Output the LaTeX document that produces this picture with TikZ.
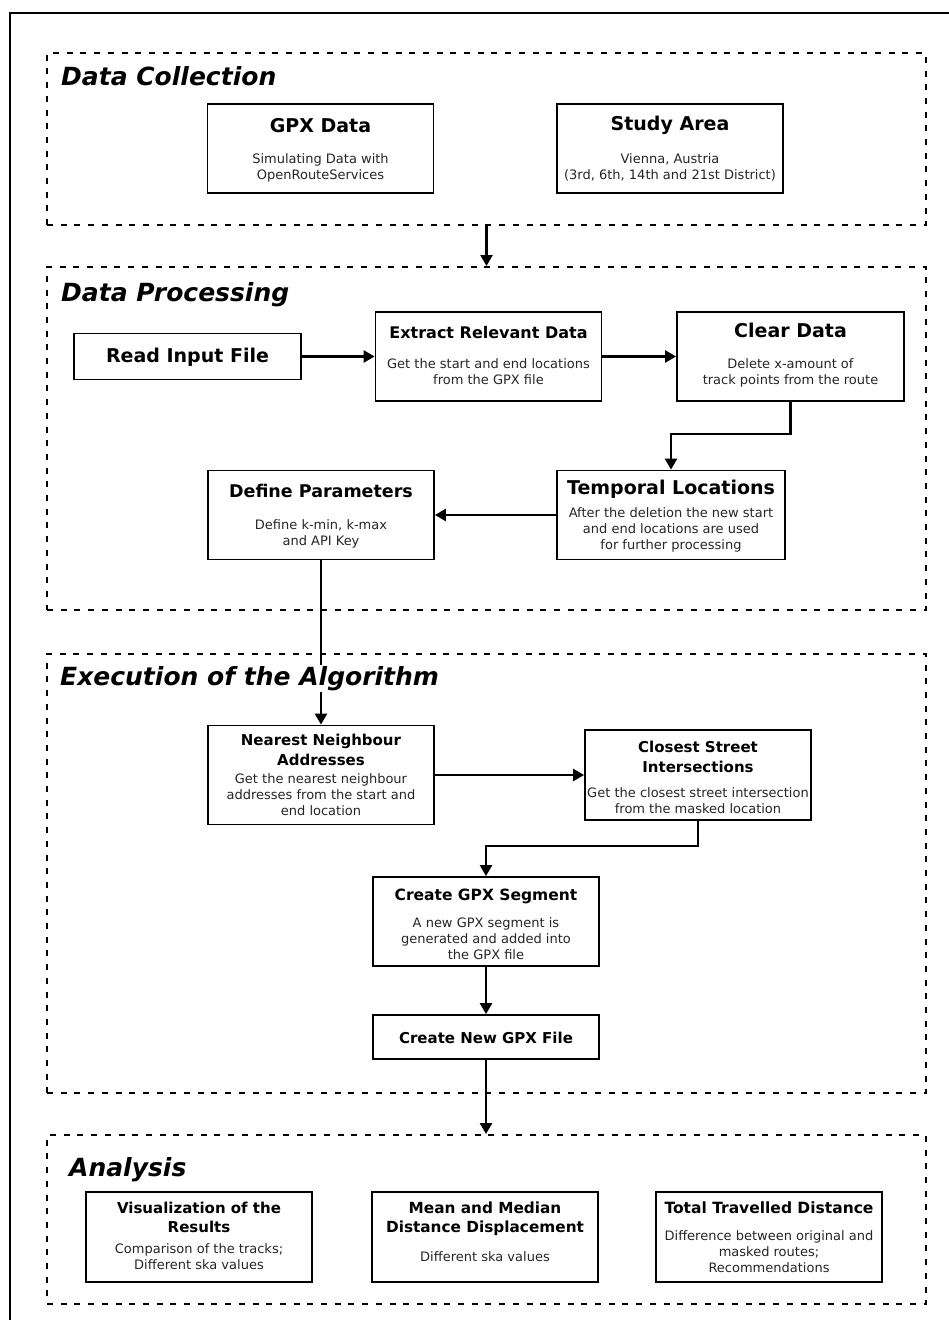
\documentclass[tikz,border=0pt]{standalone}
\usepackage{fontspec}
\setmainfont{DejaVu Sans}
\usetikzlibrary{arrows.meta}
\newcommand{\mlines}[1]{\begin{tabular}[t]{@{}c@{}}#1\end{tabular}}
\tikzset{
  sect/.style={draw, line width=1.9pt, dash pattern=on 6pt off 7.7pt, minimum width=879pt, inner sep=0pt},
  sectitle/.style={anchor=base west, inner sep=1.5pt, font=\fontsize{25}{30}\selectfont\bfseries\itshape},
  box/.style={draw, line width=1.8pt, fill=white, minimum width=226pt, minimum height=89pt, inner sep=0pt},
  ttl/.style={anchor=base, inner sep=0pt, font=\fontsize{19}{23}\selectfont\bfseries},
  ttlm/.style={anchor=base, inner sep=0pt, font=\fontsize{16}{20}\selectfont\bfseries},
  ttls/.style={anchor=base, inner sep=0pt, font=\fontsize{15}{20}\selectfont\bfseries},
  bdy/.style={anchor=base, inner sep=0pt, font=\fontsize{13}{16}\selectfont, text=black!85},
  arr/.style={line width=2.4pt, -{Triangle[length=11pt,width=12pt]}},
  conn/.style={line width=2.4pt},
  frame/.style={line width=2pt},
}
\begin{document}
\begin{tikzpicture}[x=1pt,y=-1pt]
\useasboundingbox (0,0) rectangle (949,1320);
% outer frame (clipped at right and bottom)
\coordinate (fA) at (10,1322);
\coordinate (fB) at (10,13);
\coordinate (fC) at (951,13);
\draw[frame] (fA) -- (fB) -- (fC);

% sections
\node[sect, minimum height=172pt] (dc) at (486.5,139) {};
\node[sect, minimum height=343pt] (dp) at (486.5,438.5) {};
\node[sect, minimum height=439pt] (ex) at (486.5,873.5) {};
\node[sect, minimum height=169pt] (an) at (486.5,1219.5) {};

\node[sectitle] (dcT) at (59.5,85) {Data Collection};
\node[sectitle] (dpT) at (59.5,301) {Data Processing};
\node[sectitle] (anT) at (67.5,1176) {Analysis};

% Data collection
\node[box] (gpx) at (320.5,148.5) {};
\node[ttl] (gpxT) at (320.5,132) {GPX Data};
\node[bdy] (gpxB) at (320.5,163) {\mlines{Simulating Data with\\OpenRouteServices}};

\node[box] (study) at (670,148.5) {};
\node[ttl] (studyT) at (670,130) {Study Area};
\node[bdy] (studyB) at (670,163) {\mlines{Vienna, Austria\\(3rd, 6th, 14th and 21st District)}};

% Data processing
\node[box, minimum height=46pt, minimum width=227pt] (read) at (187.5,356.5) {};
\node[ttl] (readT) at (187.5,362.5) {Read Input File};

\node[box] (extract) at (488.5,356.5) {};
\node[ttlm] (extractT) at (488.5,338) {Extract Relevant Data};
\node[bdy] (extractB) at (488.5,368) {\mlines{Get the start and end locations\\from the GPX file}};

\node[box, minimum width=227pt] (clear) at (790.5,356.5) {};
\node[ttl] (clearT) at (790.5,337) {Clear Data};
\node[bdy] (clearB) at (790.5,368) {\mlines{Delete x-amount of\\track points from the route}};

\node[box, minimum width=228pt] (temporal) at (671,515) {};
\node[ttl] (temporalT) at (671,494) {Temporal Locations};
\node[bdy] (temporalB) at (671,517) {\mlines{After the deletion the new start\\and end locations are used\\for further processing}};

\node[box] (define) at (321,515) {};
\node[ttl, font=\fontsize{17.5}{21}\selectfont\bfseries] (defineT) at (321,497) {Define Parameters};
\node[bdy] (defineB) at (321,529) {\mlines{Define k-min, k-max\\and API Key}};

% Execution
\node[box, minimum height=99pt] (nn) at (321,775) {};
\node[ttls] (nnT) at (321,745) {\mlines{Nearest Neighbour\\Addresses}};
\node[bdy] (nnB) at (321,783) {\mlines{Get the nearest neighbour\\addresses from the start and\\end location}};

\node[box, minimum height=90pt] (cs) at (698,775) {};
\node[ttls] (csT) at (698,752) {\mlines{Closest Street\\Intersections}};
\node[bdy] (csB) at (698,797) {\mlines{Get the closest street intersection\\from the masked location}};

\node[box] (seg) at (486,921.5) {};
\node[ttls, font=\fontsize{15.5}{20}\selectfont\bfseries] (segT) at (486,900) {Create GPX Segment};
\node[bdy] (segB) at (486,927) {\mlines{A new GPX segment is\\generated and added into\\the GPX file}};

\node[box, minimum height=44pt] (newgpx) at (486,1037) {};
\node[ttls] (newgpxT) at (486,1043) {Create New GPX File};

% Analysis
\node[box, minimum height=90pt] (vis) at (199,1237) {};
\node[ttls, font=\fontsize{15}{19}\selectfont\bfseries] (visT) at (199,1213) {\mlines{Visualization of the\\Results}};
\node[bdy] (visB) at (199,1253) {\mlines{Comparison of the tracks;\\Different ska values}};

\node[box, minimum height=90pt] (mean) at (485,1237) {};
\node[ttls, font=\fontsize{15.3}{19}\selectfont\bfseries] (meanT) at (485,1213) {\mlines{Mean and Median\\Distance Displacement}};
\node[bdy] (meanB) at (485,1261) {Different ska values};

\node[box, minimum height=90pt] (total) at (769,1237) {};
\node[ttls, font=\fontsize{15.5}{19}\selectfont\bfseries] (totalT) at (769,1213) {Total Travelled Distance};
\node[bdy] (totalB) at (769,1240) {\mlines{Difference between original and\\masked routes;\\Recommendations}};

% connectors
\draw[arr] (dc.south) -- (dp.north);
\draw[arr] (read.east) -- (extract.west);
\draw[arr] (extract.east) -- (clear.west);
\draw[arr] (clear.south) -- ++(0,32) -| (temporal.north);
\draw[arr] (temporal.west) -- (define.east);
\draw[arr] (define.south) -- (nn.north);
\draw[arr] (nn.east) -- (cs.west);
\draw[arr] (cs.south) -- ++(0,25) -| (seg.north);
\draw[arr] (seg.south) -- (newgpx.north);
\draw[arr] (newgpx.south) -- (newgpx.south |- an.north);

% title over the vertical connector
\node[sectitle, fill=white] (exT) at (58.5,685) {Execution of the Algorithm};
\end{tikzpicture}
\end{document}
